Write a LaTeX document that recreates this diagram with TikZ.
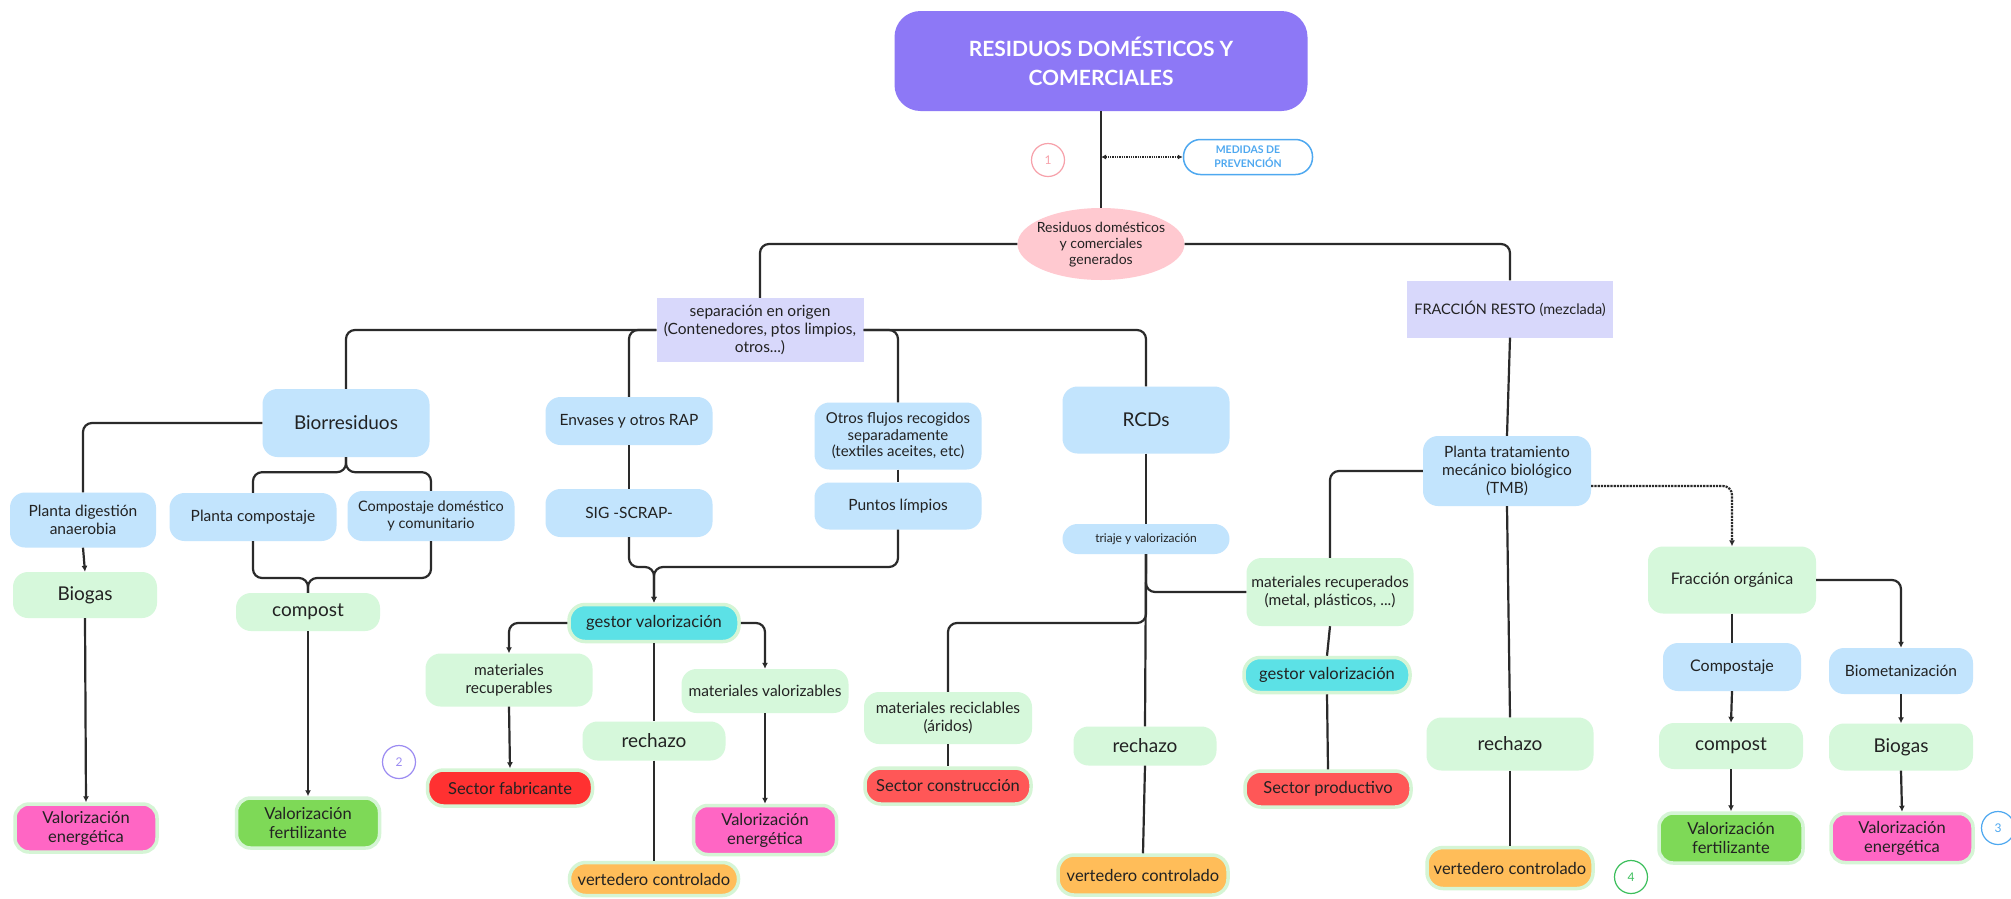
\documentclass[tikz,border=0pt]{standalone}
\usepackage{fontspec}
\setmainfont{Lato}
\usetikzlibrary{arrows.meta,shapes.geometric}
\definecolor{txt}{HTML}{222222}
\definecolor{lnc}{HTML}{2A2A2A}
\definecolor{lblue}{HTML}{C2E4FD}
\definecolor{lgreen}{HTML}{D6F8DB}
\definecolor{lav}{HTML}{D8D8FB}
\definecolor{ttl}{HTML}{8D78F6}
\definecolor{pinkell}{HTML}{FFC9D0}
\definecolor{cyanb}{HTML}{5CE1E6}
\definecolor{magb}{HTML}{FF66C4}
\definecolor{greenb}{HTML}{7ED957}
\definecolor{redA}{HTML}{FF3131}
\definecolor{redB}{HTML}{FF5757}
\definecolor{orangeb}{HTML}{FFBD59}
\definecolor{pillout}{HTML}{D5F5D5}
\definecolor{medblue}{HTML}{4EA8F0}
\definecolor{c1}{HTML}{F7A1AA}
\definecolor{c2}{HTML}{9C8CF2}
\definecolor{c4}{HTML}{3CBF5C}
\newcommand\fsz[2]{\fontsize{#1}{#2}\selectfont}
\begin{document}
\begin{tikzpicture}[x=1pt,y=-1pt,
  wh/.style n args={2}{minimum width=#1pt, minimum height=#2pt},
  box/.style={align=center, inner sep=0pt, text=txt, font=\fsz{15.5}{18}},
  bluebox/.style={box, fill=lblue, rounded corners=15pt},
  greenbox/.style={box, fill=lgreen, rounded corners=15pt},
  lavbox/.style={box, fill=lav},
  pill/.style={box, draw=pillout, line width=3.5pt, rounded corners=16pt, font=\fsz{16.5}{19}},
  big/.style={font=\fsz{19}{22}},
  conn/.style={draw=lnc, line width=2.2pt, rounded corners=9pt},
  arr/.style={conn, -{Latex[length=6pt,width=6pt]}},
  numc/.style={circle, draw, line width=1.2pt, minimum size=33pt, inner sep=0pt, font=\fsz{12}{14}},
]
\useasboundingbox[fill=white] (0,0) rectangle (2011,898);

% top
\node[box, fill=ttl, rounded corners=26pt, wh={413}{100}, text=white, font=\bfseries\fsz{21}{29}] (title) at (1101,61) {RESIDUOS DOMÉSTICOS Y\\COMERCIALES};
\node[numc, draw=c1, text=c1] (cir1) at (1048,160) {1};
\node[box, draw=medblue, line width=1.5pt, fill=white, rounded corners=17pt, wh={129}{35}, text=medblue, font=\bfseries\fsz{10.5}{14}] (med) at (1248,157) {MEDIDAS DE\\PREVENCIÓN};
\node[ellipse, fill=pinkell, wh={167}{72}, inner sep=0pt] (ell) at (1101,244) {};
\node[box, font=\fsz{14}{16}] (ellt) at (1101,245) {Residuos domésticos\\y comerciales\\generados};
\node[lavbox, wh={207}{64}] (sep) at (760,330) {separación en origen\\(Contenedores, ptos limpios,\\otros...)};
\node[lavbox, wh={206}{57}, font=\fsz{14.5}{18}] (frac) at (1510,309) {FRACCIÓN RESTO (mezclada)};

% biorresiduos branch
\node[bluebox, big, wh={167}{68}] (bio) at (346,423) {Biorresiduos};
\node[bluebox, wh={146}{55}] (pda) at (83,520) {Planta digestión\\anaerobia};
\node[greenbox, big, wh={144}{46}] (biogasL) at (85,595) {Biogas};
\node[pill, fill=magb, wh={142}{48}, rounded corners=14pt] (veL) at (86,828) {Valorización\\energética};
\node[bluebox, wh={167}{48}] (pcomp) at (253,517) {Planta compostaje};
\node[bluebox, wh={167}{50}, font=\fsz{14.5}{17}] (cdom) at (431,516) {Compostaje doméstico\\y comunitario};
\node[greenbox, big, wh={144}{38}] (compL) at (308,612) {compost};
\node[pill, fill=greenb, wh={143}{50}, rounded corners=14pt] (vfL) at (308,823) {Valorización\\fertilizante};

% envases / otros
\node[bluebox, wh={167}{48}] (env) at (629,421) {Envases y otros RAP};
\node[bluebox, wh={167}{48}] (sig) at (629,513) {SIG -SCRAP-};
\node[bluebox, wh={167}{67}, font=\fsz{15}{16.5}] (otros) at (898,436) {Otros flujos recogidos\\separadamente\\(textiles aceites, etc)};
\node[bluebox, wh={167}{47}] (puntos) at (898,506) {Puntos límpios};
\node[pill, fill=cyanb, wh={170}{37}] (gestL) at (654,623) {gestor valorización};
\node[greenbox, wh={167}{53}] (mrec) at (509,680) {materiales\\recuperables};
\node[pill, fill=redA, wh={165}{36}] (sfab) at (510,788) {Sector fabricante};
\node[numc, draw=c2, text=c2] (cir2) at (399,762) {2};
\node[greenbox, big, wh={143}{39}] (rechL) at (654,741) {rechazo};
\node[pill, fill=orangeb, wh={169}{33}] (vertL) at (654,879) {vertedero controlado};
\node[greenbox, wh={167}{44}] (mval) at (765,691) {materiales valorizables};
\node[pill, fill=magb, wh={143}{49}, rounded corners=14pt] (veM) at (765,830) {Valorización\\energética};

% RCDs
\node[bluebox, big, wh={167}{67}] (rcd) at (1146,420) {RCDs};
\node[bluebox, wh={167}{30}, font=\fsz{12}{14}] (tri) at (1146,539) {triaje y valorización};
\node[greenbox, wh={167}{68}] (mrecu) at (1330,592) {materiales recuperados\\(metal, plásticos, ...)};
\node[greenbox, wh={168}{52}] (mreci) at (948,718) {materiales reciclables\\(áridos)};
\node[pill, fill=redB, wh={166}{36}] (scon) at (948,786) {Sector construcción};
\node[greenbox, big, wh={143}{39}] (rechM) at (1145,746) {rechazo};
\node[pill, fill=orangeb, wh={170}{40}] (vertM) at (1143,875) {vertedero controlado};
\node[pill, fill=cyanb, wh={166}{35}] (gestR) at (1327,675) {gestor valorización};
\node[pill, fill=redB, wh={166}{36}] (sprod) at (1328,789) {Sector productivo};

% TMB
\node[bluebox, wh={168}{70}] (tmb) at (1507,471) {Planta tratamiento\\mecánico biológico\\(TMB)};
\node[greenbox, big, wh={167}{53}] (rechR) at (1510,744) {rechazo};
\node[pill, fill=orangeb, wh={166}{41}] (vertR) at (1510,868) {vertedero controlado};
\node[greenbox, wh={168}{67}, font=\fsz{16}{18}] (forg) at (1732,580) {Fracción orgánica};
\node[bluebox, wh={138}{48}, font=\fsz{16}{18}] (compje) at (1732,667) {Compostaje};
\node[bluebox, wh={144}{46}] (biomet) at (1901,671) {Biometanización};
\node[greenbox, big, wh={144}{46}] (compR) at (1731,746) {compost};
\node[greenbox, big, wh={144}{47}] (biogasR) at (1901,747) {Biogas};
\node[pill, fill=greenb, wh={144}{50}, rounded corners=14pt] (vfR) at (1731,838) {Valorización\\fertilizante};
\node[pill, fill=magb, wh={142}{49}, rounded corners=14pt] (veR) at (1902,838) {Valorización\\energética};
\node[numc, draw=medblue, text=medblue] (cir3) at (1998,828) {3};
\node[numc, draw=c4, text=c4] (cir4) at (1631,877) {4};

% junction coordinates
\coordinate (mj) at (1101,157);
\coordinate (jc) at (308,578);
\coordinate (jg) at (654,567);
\coordinate (jr) at (1146,623);

% connectors
\draw[conn] (title.south) -- (ell.north);
\draw[draw=lnc, line width=1.3pt, densely dotted, {Latex[length=5pt,width=5pt]}-{Latex[length=5pt,width=5pt]}] (mj) -- (med.west);
\draw[conn] (ell.west) -| (sep.north);
\draw[conn] (ell.east) -| (frac.north);
\draw[conn] (sep.west) -| (bio.north);
\draw[conn] (sep.west) -| (env.north);
\draw[conn] (sep.east) -| (otros.north);
\draw[conn] (sep.east) -| (rcd.north);

\draw[conn] (bio.west) -| (pda.north);
\draw[arr] (pda.south) -- (biogasL.north);
\draw[arr] (biogasL.south) -- (veL.north);
\draw[conn] (bio.south) -- ++(0,15) -| (pcomp.north);
\draw[conn] (bio.south) -- ++(0,15) -| (cdom.north);
\draw[conn] (pcomp.south) |- (jc) -- (compL.north);
\draw[conn] (cdom.south) |- (jc) -- (compL.north);
\draw[arr] (compL.south) -- (vfL.north);

\draw[conn] (env.south) -- (sig.north);
\draw[conn] (otros.south) -- (puntos.north);
\draw[arr] (sig.south) |- (jg) -- (gestL.north);
\draw[arr] (puntos.south) |- (jg) -- (gestL.north);
\draw[arr] (gestL.west) -| (mrec.north);
\draw[arr] (mrec.south) -- (sfab.north);
\draw[arr] (gestL.east) -| (mval.north);
\draw[arr] (mval.south) -- (veM.north);
\draw[conn] (gestL.south) -- (rechL.north);
\draw[conn] (rechL.south) -- (vertL.north);

\draw[conn] (rcd.south) -- (tri.north);
\draw[conn] (tri.south) -- (rechM.north);
\draw[conn] (tri.south) |- (mrecu.west);
\draw[conn] (tri.south) -- (jr) -| (mreci.north);
\draw[conn] (mreci.south) -- (scon.north);
\draw[conn] (rechM.south) -- (vertM.north);

\draw[conn] (frac.south) -- (tmb.north);
\draw[conn] (tmb.west) -| (mrecu.north);
\draw[conn] (mrecu.south) -- (gestR.north);
\draw[conn] (gestR.south) -- (sprod.north);
\draw[conn] (tmb.south) -- (rechR.north);
\draw[conn] (rechR.south) -- (vertR.north);
\draw[arr, densely dotted] ([yshift=-15pt]tmb.east) -| (forg.north);
\draw[conn] (forg.south) -- (compje.north);
\draw[arr] (forg.east) -| (biomet.north);
\draw[arr] (compje.south) -- (compR.north);
\draw[arr] (biomet.south) -- (biogasR.north);
\draw[arr] (compR.south) -- (vfR.north);
\draw[arr] (biogasR.south) -- (veR.north);
\end{tikzpicture}
\end{document}
